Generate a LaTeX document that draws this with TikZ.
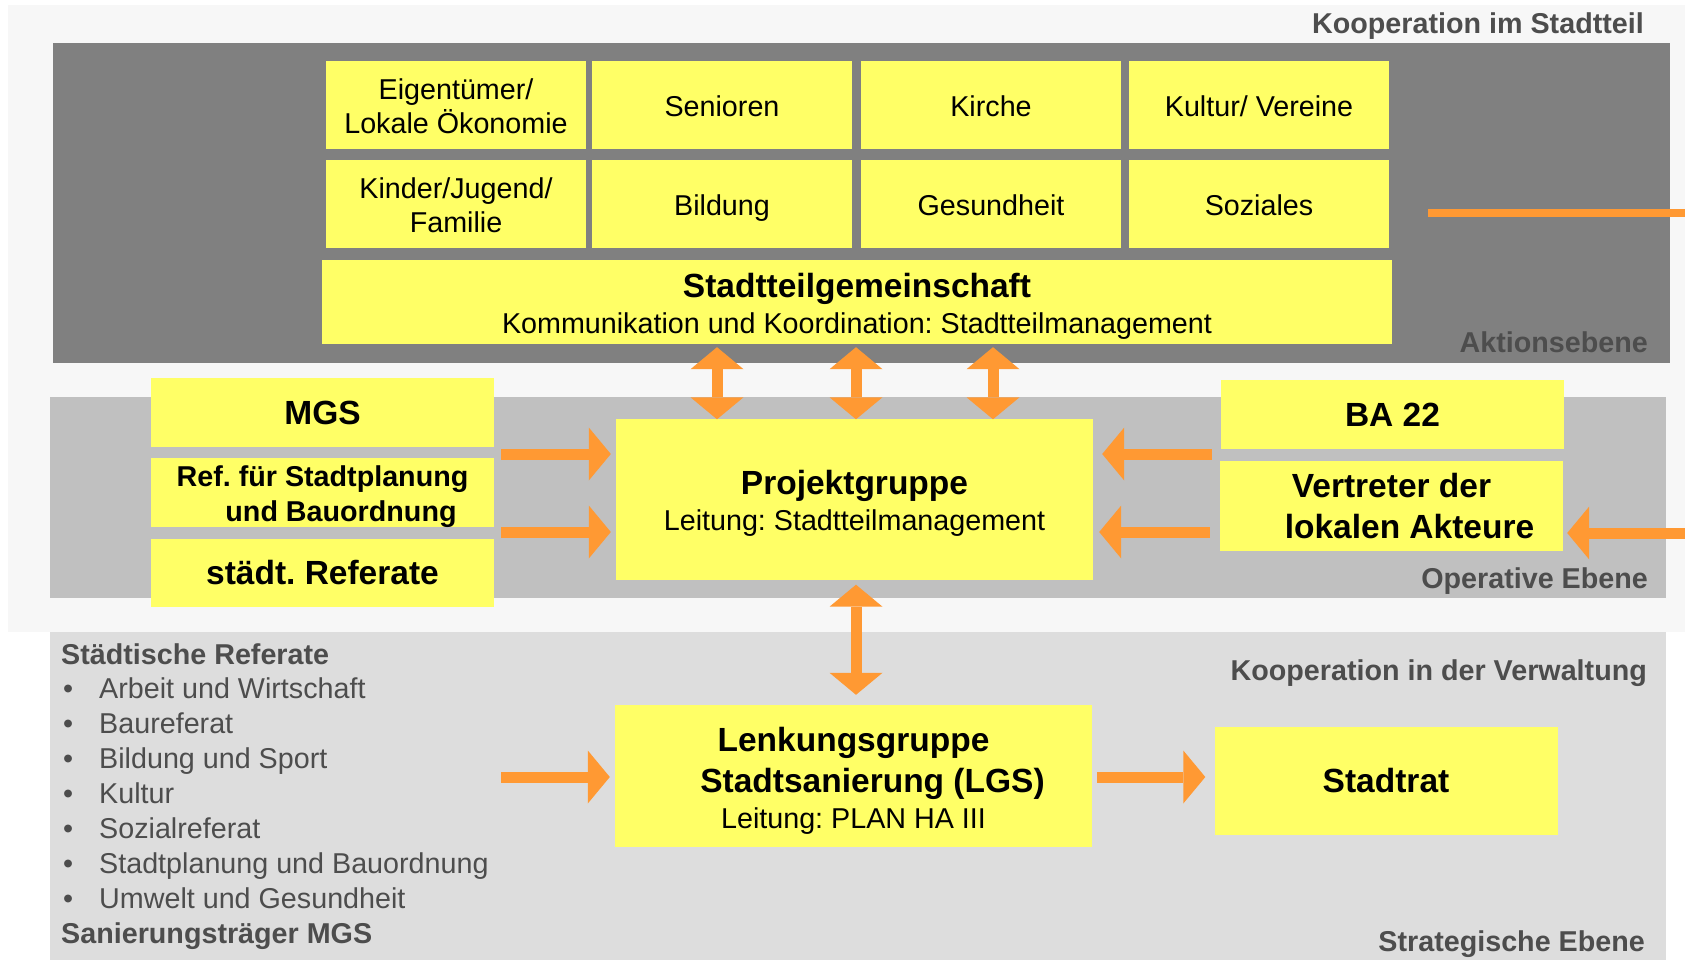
\documentclass[tikz,border=0pt]{standalone}
\usepackage{fontspec}
\setmainfont{Liberation Sans}
\usetikzlibrary{arrows.meta,calc}
\definecolor{BoxClr}{HTML}{FFFF66}
\definecolor{ArrowClr}{HTML}{FF9933}
\definecolor{PaperClr}{HTML}{F7F7F7}
\definecolor{ActionClr}{HTML}{808080}
\definecolor{OperClr}{HTML}{C0C0C0}
\definecolor{StratClr}{HTML}{DDDDDD}
\definecolor{LevelClr}{HTML}{4D4D4D}
\newcommand\TitleFont{\fontsize{33.5}{40.5}\selectfont\bfseries}
\newcommand\BodyFont{\fontsize{28.7}{34.4}\selectfont}
\newcommand\TopStrut{\rule{0pt}{1.0em}}
\newcommand\BotStrut{\rule[-0.212em]{0pt}{0pt}}
\frenchspacing

\begin{document}
\begin{tikzpicture}[x=1pt,y=-1pt,
  >={Triangle[width=53pt,length=22pt,line width=0pt]},
  box/.style={fill=BoxClr,inner sep=0pt,align=center,font=\BodyFont},
  bodyline/.style={text height=30pt,text depth=6.1pt},
  titleline/.style={font=\TitleFont,text height=30.3pt,text depth=7.1pt},
  cell/.style={box,minimum width=260pt,minimum height=88pt},
  side/.style={box,minimum width=343pt,minimum height=69pt},
  oneway/.style={draw=ArrowClr,line width=11pt,->},
  twoway/.style={draw=ArrowClr,line width=11pt,<->},
  lvl/.style={text=LevelClr,font=\BodyFont\bfseries,inner sep=0pt},
  lst/.style={text=LevelClr,font=\BodyFont,inner sep=0pt,anchor=base west}]
\useasboundingbox (0,0) rectangle (1685,960);

% bands
\fill[PaperClr] (8,5) rectangle (1685,632);
\fill[ActionClr] (53,43) rectangle (1670,363);
\fill[OperClr] (50,397) rectangle (1666,598);
\fill[StratClr] (50,632) rectangle (1666,960);

% Aktionsebene
\node[cell] (eig) at (456,105) {\TopStrut Eigentümer/\\Lokale Ökonomie\BotStrut};
\node[cell,bodyline] (sen) at (722,105) {Senioren};
\node[cell,bodyline] (kir) at (991,105) {Kirche};
\node[cell,bodyline] (kul) at (1259,105) {Kultur/ Vereine};
\node[cell] (kid) at (456,204) {\TopStrut Kinder/Jugend/\\Familie\BotStrut};
\node[cell,bodyline] (bil) at (722,204) {Bildung};
\node[cell,bodyline] (ges) at (991,204) {Gesundheit};
\node[cell,bodyline] (soz) at (1259,204) {Soziales};
\node[box,minimum width=1070pt,minimum height=84pt] (stg) at (857,302)
  {{\TitleFont\TopStrut Stadtteilgemeinschaft}\\[2pt]Kommunikation und Koordination: Stadtteilmanagement\BotStrut};

% Operative Ebene
\node[side,titleline] (mgs) at (322.5,412.5) {MGS};
\node[side,font=\BodyFont\bfseries] (ref) at (322.5,492.5) {\TopStrut Ref. für Stadtplanung\\\hspace*{37pt}und Bauordnung\BotStrut};
\node[side,titleline,minimum height=68pt] (std) at (322.5,573) {städt. Referate};
\node[box,minimum width=477pt,minimum height=161pt] (proj) at (854.5,499)
  {{\TitleFont\TopStrut Projektgruppe}\\[2pt]Leitung: Stadtteilmanagement\BotStrut};
\node[side,titleline] (ba) at (1392.5,414.5) {BA 22};
\node[side,minimum height=90pt,font=\TitleFont] (vert) at (1391.5,506) {Vertreter der\\\hspace*{36pt}lokalen Akteure};

% Strategische Ebene
\node[box,minimum width=477pt,minimum height=142pt,font=\TitleFont] (lgs) at (853.5,776)
  {\TopStrut Lenkungsgruppe\\[1pt]\hspace*{38pt}Stadtsanierung (LGS)\\[-5pt]{\BodyFont\mdseries Leitung: PLAN HA III\BotStrut}};
\node[side,titleline,minimum height=108pt] (rat) at (1386,780.5) {Stadtrat};

\node[lst,font=\BodyFont\bfseries] (refhead) at (61,664) {Städtische Referate};
\foreach \entry [count=\i] in {Arbeit und Wirtschaft,Baureferat,Bildung und Sport,Kultur,
    Sozialreferat,Stadtplanung und Bauordnung,Umwelt und Gesundheit}{
  \node[lst] (dot\i) at (63,664+34.9*\i) {•};
  \node[lst] (ref\i) at (99,664+34.9*\i) {\entry};
}
\node[lst,font=\BodyFont\bfseries] (mgshead) at (61,943) {Sanierungsträger MGS};

% level labels
\node[lvl,anchor=base east] (koopst) at (1644,34) {Kooperation im Stadtteil};
\node[lvl,anchor=base east] (aktion) at (1648,352) {Aktionsebene};
\node[lvl,anchor=base east] (operat) at (1648,588) {Operative Ebene};
\node[lvl,anchor=base east] (koopvw) at (1647,680) {Kooperation in der Verwaltung};
\node[lvl,anchor=base east] (strat) at (1645,951) {Strategische Ebene};

% arrows
\coordinate (v1) at (717,0);
\coordinate (v2) at (856,0);
\coordinate (v3) at (993,0);
\coordinate (h1) at (0,454);
\coordinate (h2) at (0,532);
\coordinate (rim) at (1685,533);
\coordinate (lnstart) at (1428,213);
\coordinate (lnend) at (1685,213);
\coordinate (lgsin) at (501,777);

\draw[twoway,shorten <=3pt,shorten >=-1pt] (stg.south -| v1) -- (proj.north -| v1);
\draw[twoway,shorten <=3pt,shorten >=-1pt] (stg.south -| v2) -- (proj.north -| v2);
\draw[twoway,shorten <=3pt,shorten >=-1pt] (stg.south -| v3) -- (proj.north -| v3);
\draw[oneway,shorten <=7pt,shorten >=5pt] (mgs.east |- h1) -- (proj.west |- h1);
\draw[oneway,shorten <=7pt,shorten >=5pt] (mgs.east |- h2) -- (proj.west |- h2);
\draw[oneway,shorten <=9pt,shorten >=9pt] (ba.west |- h1) -- (proj.east |- h1);
\draw[oneway,shorten <=10pt,shorten >=6pt] (vert.west |- h2) -- (proj.east |- h2);
\draw[oneway,shorten >=4pt] (rim) -- (vert.east |- rim);
\draw[ArrowClr,line width=8pt] (lnstart) -- (lnend);
\draw[twoway,shorten <=5pt,shorten >=10pt] (proj.south -| v2) -- (lgs.north -| v2);
\draw[oneway,shorten >=5pt] (lgsin) -- (lgs.west |- lgsin);
\draw[oneway,shorten <=5pt,shorten >=9pt] (lgs.east |- lgsin) -- (rat.west |- lgsin);
\end{tikzpicture}
\end{document}
